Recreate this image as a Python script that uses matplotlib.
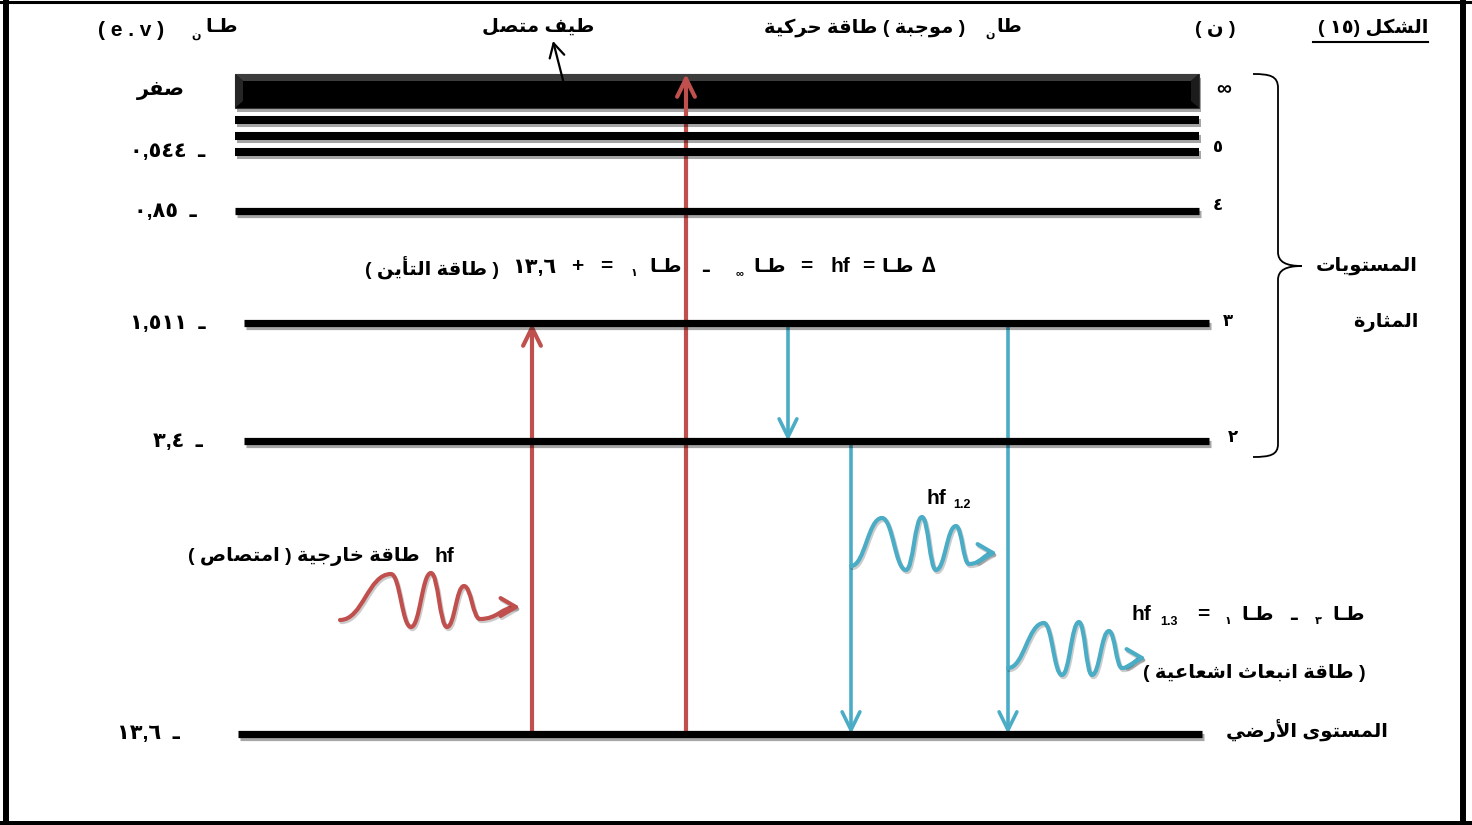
import re
import numpy as np
import matplotlib
matplotlib.use('Agg')
from matplotlib import pyplot as plt
from matplotlib.patches import FancyArrowPatch, Rectangle, Polygon, PathPatch
from matplotlib.path import Path
import matplotlib.patheffects as pe

plt.rcParams['font.family'] = ['Liberation Sans', 'DejaVu Sans']
plt.rcParams['font.weight'] = 'bold'

# hydrogen energy levels (eV) and their principal numbers
level_n = ['١', '٢', '٣', '٤', '٥', '∞']
energies = [-13.6, -3.4, -1.511, -0.85, -0.544, 0.0]

# transitions (from level, to level): absorption goes up, emission comes down
transitions = [(0, 2), (0, 5), (2, 1), (1, 0), (2, 0)]

# schematic layout of the diagram (pixels)
level_y = [734, 441, 323, 211, 152, 91]
level_x = [(238, 1202), (244, 1209), (244, 1209), (235, 1199), (235, 1199), (235, 1199)]
extra_lines_y = [120, 136]
energy_label_x = [180, 203, 206, 197, 205, 185]
n_label_xy = [None, (1233, 438), (1228, 321), (1218, 206), (1218, 148), (1224, 90)]
transition_x = [532, 686, 788, 851, 1008]

RED = '#C0504D'
BLUE = '#4BACC6'

# --- minimal arabic shaping + right-to-left ordering ---
FORMS = {
    'ء': (0xFE80, 1), 'آ': (0xFE81, 2), 'أ': (0xFE83, 2), 'ؤ': (0xFE85, 2), 'إ': (0xFE87, 2),
    'ئ': (0xFE89, 4), 'ا': (0xFE8D, 2), 'ب': (0xFE8F, 4), 'ة': (0xFE93, 2), 'ت': (0xFE95, 4),
    'ث': (0xFE99, 4), 'ج': (0xFE9D, 4), 'ح': (0xFEA1, 4), 'خ': (0xFEA5, 4), 'د': (0xFEA9, 2),
    'ذ': (0xFEAB, 2), 'ر': (0xFEAD, 2), 'ز': (0xFEAF, 2), 'س': (0xFEB1, 4), 'ش': (0xFEB5, 4),
    'ص': (0xFEB9, 4), 'ض': (0xFEBD, 4), 'ط': (0xFEC1, 4), 'ظ': (0xFEC5, 4), 'ع': (0xFEC9, 4),
    'غ': (0xFECD, 4), 'ف': (0xFED1, 4), 'ق': (0xFED5, 4), 'ك': (0xFED9, 4), 'ل': (0xFEDD, 4),
    'م': (0xFEE1, 4), 'ن': (0xFEE5, 4), 'ه': (0xFEE9, 4), 'و': (0xFEED, 2), 'ى': (0xFEEF, 2),
    'ي': (0xFEF1, 4),
}
LIGATURES = {'لا': (0xFEFB, 2), 'لأ': (0xFEF7, 2), 'لإ': (0xFEF9, 2), 'لآ': (0xFEF5, 2)}
MIRROR = str.maketrans('()[]', ')(][')
LTR_RUN = re.compile(r'[A-Za-z0-9\u0660-\u0669](?:[A-Za-z0-9\u0660-\u0669.,]*[A-Za-z0-9\u0660-\u0669])?')


def shape(text):
    units = []
    i = 0
    while i < len(text):
        if text[i:i + 2] in LIGATURES:
            units.append(text[i:i + 2])
            i += 2
        else:
            units.append(text[i])
            i += 1

    def info(u):
        return LIGATURES.get(u) or FORMS.get(u)

    def links_next(u):
        return u == 'ـ' or (info(u) is not None and info(u)[1] == 4)

    def links_prev(u):
        return u == 'ـ' or (info(u) is not None and info(u)[1] >= 2)

    out = []
    for k, u in enumerate(units):
        f = info(u)
        if f is None:
            out.append(u)
            continue
        base, nf = f
        prev = units[k - 1] if k > 0 else None
        nxt = units[k + 1] if k + 1 < len(units) else None
        p = prev is not None and nf >= 2 and links_next(prev)
        q = nxt is not None and nf == 4 and links_prev(nxt)
        off = 3 if (p and q) else 2 if q else 1 if p else 0
        out.append(chr(base + off))
    return ''.join(out)


def ar(text):
    t = shape(text)
    parts, pos = [], 0
    for m in LTR_RUN.finditer(t):
        parts.append(('r', t[pos:m.start()]))
        parts.append(('l', m.group()))
        pos = m.end()
    parts.append(('r', t[pos:]))
    out = ''
    for kind, seg in reversed(parts):
        out += seg[::-1].translate(MIRROR) if kind == 'r' else seg
    return out


def ar_num(v):
    if v == 0:
        return 'صفر'
    s = f'{abs(v):g}'.replace('.', ',')
    return s.translate(str.maketrans('0123456789', '٠١٢٣٤٥٦٧٨٩'))


def wave_path(pts, k=0.45):
    verts, codes = [pts[0]], [Path.MOVETO]
    for (x0, y0), (x1, y1) in zip(pts[:-1], pts[1:]):
        d = (x1 - x0) * k
        verts += [(x0 + d, y0), (x1 - d, y1), (x1, y1)]
        codes += [Path.CURVE4] * 3
    return Path(verts, codes)


fig = plt.figure(figsize=(14.72, 8.25), dpi=100)
ax = fig.add_axes([0, 0, 1, 1])
ax.set_xlim(0, 1472)
ax.set_ylim(825, 0)
ax.axis('off')

# frame
ax.plot([6, 6], [0, 825], color='black', lw=4.3)
ax.plot([1463, 1463], [0, 825], color='black', lw=4.3)
ax.plot([0, 1472], [1.5, 1.5], color='black', lw=2.2)
ax.plot([0, 1472], [822.5, 822.5], color='black', lw=3.6)

shadow = [pe.SimpleLineShadow(offset=(1.5, -2.5), alpha=0.35), pe.Normal()]

# continuum bar
x0, x1 = level_x[5]
bar = Rectangle((x0, 74), x1 - x0, 34, facecolor='black', edgecolor='#333333', lw=0.8,
                path_effects=[pe.SimplePatchShadow(offset=(1.5, -3), alpha=0.35), pe.Normal()])
ax.add_patch(bar)
ax.add_patch(Polygon([(x0, 74), (x1, 74), (x1 - 8, 81), (x0 + 8, 81)], color='#3c3c3c', lw=0))
ax.add_patch(Polygon([(x0, 74), (x0 + 8, 81), (x0 + 8, 101), (x0, 108)], color='#262626', lw=0))
ax.add_patch(Polygon([(x1, 74), (x1 - 8, 81), (x1 - 8, 101), (x1, 108)], color='#1c1c1c', lw=0))

for y in extra_lines_y:
    ax.plot([x0, x1], [y, y], color='black', lw=5.8, solid_capstyle='butt', path_effects=shadow)

# bound levels
for i in range(5):
    xa, xb = level_x[i]
    ax.plot([xa, xb], [level_y[i], level_y[i]], color='black',
            lw=5.8 if i == 4 else 5.2, solid_capstyle='butt', path_effects=shadow)

# energy labels on the left
for i, e in enumerate(energies):
    txt = ar(ar_num(e)) if e == 0 else ar_num(e) + '  ـ'
    ax.text(energy_label_x[i], level_y[i], txt, ha='right', va='center', fontsize=15)

# principal numbers on the right
for i, xy in enumerate(n_label_xy):
    if xy is not None:
        ax.text(xy[0], xy[1], level_n[i], ha='center', va='center',
                fontsize=15 if level_n[i] == '∞' else 12)

# transitions
for (a, b), x in zip(transitions, transition_x):
    up = b > a
    ya = level_y[a]
    yb = 74 if b == 5 else level_y[b]
    arr = FancyArrowPatch((x, ya), (x, yb), arrowstyle='->,head_length=0.65,head_width=0.32',
                          mutation_scale=20, lw=3.0 if up else 2.6,
                          color=RED if up else BLUE, shrinkA=0, shrinkB=0)
    ax.add_patch(arr)

# photon waves
waves = [
    ([(340, 620), (391, 574), (411, 627), (431, 573), (447, 627), (464, 586), (480, 619), (520, 607)], RED),
    ([(851, 566), (882, 518), (906, 570), (922, 517), (936, 570), (956, 526), (969, 564), (997, 553)], BLUE),
    ([(1008, 668), (1044, 623), (1062, 675), (1079, 622), (1092, 675), (1109, 631), (1122, 668), (1146, 658)], BLUE),
]
for pts, c in waves:
    ax.add_patch(FancyArrowPatch(path=wave_path(pts), arrowstyle='->,head_length=0.55,head_width=0.32',
                                 mutation_scale=20, lw=3.0, color=c,
                                 path_effects=[pe.SimpleLineShadow(offset=(1, -1.5), alpha=0.2), pe.Normal()]))

# curly brace around the excited levels
brace = Path([(1253, 74), (1270, 74), (1278, 76), (1278, 88),
              (1278, 252),
              (1278, 262), (1286, 266), (1302, 266),
              (1286, 266), (1278, 270), (1278, 280),
              (1278, 444),
              (1278, 455), (1270, 457), (1253, 457)],
             [Path.MOVETO, Path.CURVE4, Path.CURVE4, Path.CURVE4,
              Path.LINETO,
              Path.CURVE4, Path.CURVE4, Path.CURVE4,
              Path.CURVE4, Path.CURVE4, Path.CURVE4,
              Path.LINETO,
              Path.CURVE4, Path.CURVE4, Path.CURVE4])
ax.add_patch(PathPatch(brace, fill=False, lw=1.3, edgecolor='black'))
ax.text(1418, 266, ar('المستويات'), ha='right', va='center', fontsize=14)
ax.text(1418, 323, ar('المثارة'), ha='right', va='center', fontsize=14)

# header
ax.text(1428, 28, ar('الشكل (١٥ )'), ha='right', va='center', fontsize=14)
ax.plot([1313, 1428], [42, 42], color='black', lw=1.5)
ax.text(1215, 29, ar('( ن )'), ha='center', va='center', fontsize=14)
ax.text(1022, 28, ar('طا'), ha='right', va='center', fontsize=14)
ax.text(990, 35, ar('ن'), ha='center', va='center', fontsize=8)
ax.text(965, 28, ar('( موجبة ) طاقة حركية'), ha='right', va='center', fontsize=14)
ax.text(538, 27, ar('طيف متصل'), ha='center', va='center', fontsize=14)
ax.add_patch(FancyArrowPatch((566, 92), (553, 41), arrowstyle='->,head_length=0.55,head_width=0.3',
                             mutation_scale=18, lw=1.6, color='black', shrinkA=0, shrinkB=0))
ax.text(238, 28, ar('طـا'), ha='right', va='center', fontsize=14)
ax.text(196, 36, ar('ن'), ha='center', va='center', fontsize=8)
ax.text(98, 30, '( e . v )', ha='left', va='center', fontsize=15)

# ionization energy relation
formula = [
    (ar('( طاقة التأين )'), 432, 267, 14), ('١٣,٦', 534, 267, 15), ('+', 577, 266, 15),
    ('=', 606, 266, 15), ('١', 634, 273, 8), (ar('طـا'), 666, 267, 14), ('ـ', 706, 267, 14),
    ('∞', 740, 273, 8), (ar('طـا'), 770, 267, 14), ('=', 806, 266, 15), ('hf', 840, 267, 15),
    ('=', 868, 266, 15), (ar('طـا'), 898, 267, 14), ('∆', 928, 267, 16),
]
for t, x, y, s in formula:
    ax.text(x, y, t, ha='center', va='center', fontsize=s)

# absorption label
ax.text(444, 556, 'hf', ha='center', va='center', fontsize=15)
ax.text(420, 556, ar('طاقة خارجية ( امتصاص )'), ha='right', va='center', fontsize=14)

# emission labels
ax.text(936, 498, 'hf', ha='center', va='center', fontsize=15)
ax.text(962, 505, '1.2', ha='center', va='center', fontsize=9)
emission = [
    ('hf', 1141, 615, 15), ('1.3', 1169, 622, 9), ('=', 1203, 614, 15), ('١', 1228, 621, 8),
    (ar('طـا'), 1258, 615, 14), ('ـ', 1293, 615, 14), ('٣', 1318, 621, 8), (ar('طـا'), 1349, 615, 14),
]
for t, x, y, s in emission:
    ax.text(x, y, t, ha='center', va='center', fontsize=s)
ax.text(1254, 673, ar('( طاقة انبعاث اشعاعية )'), ha='center', va='center', fontsize=14)
ax.text(1388, 731, ar('المستوى الأرضي'), ha='right', va='center', fontsize=14)

fig.savefig('out.png', dpi=100)
